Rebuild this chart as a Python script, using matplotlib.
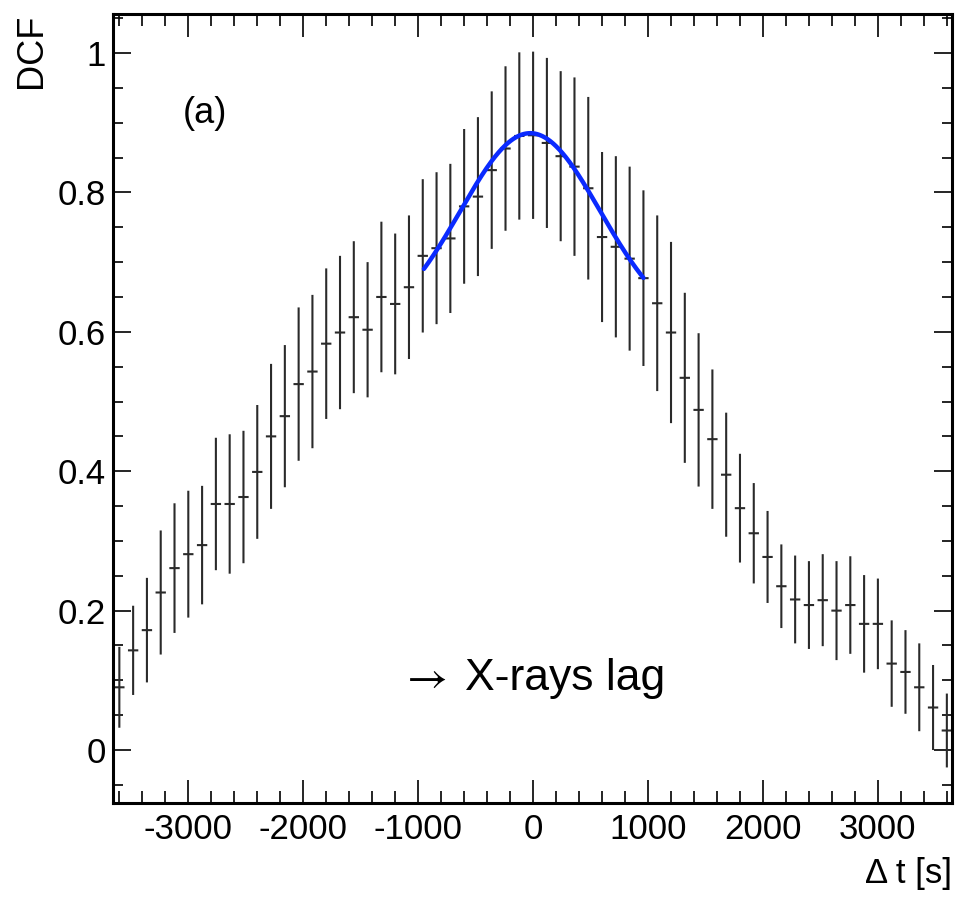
import numpy as np
import matplotlib
matplotlib.use("Agg")
import matplotlib.pyplot as plt
from matplotlib.ticker import MultipleLocator, FuncFormatter

plt.rcParams['font.family'] = ['Liberation Sans', 'DejaVu Sans']

# Discrete correlation function: lag bins [s], DCF values and their errors
lag = np.arange(-3600, 3601, 120)
dcf = [0.090, 0.143, 0.172, 0.226, 0.261, 0.281, 0.294, 0.353, 0.353, 0.363,
       0.399, 0.450, 0.479, 0.525, 0.543, 0.583, 0.599, 0.621, 0.603, 0.650,
       0.640, 0.664, 0.709, 0.720, 0.734, 0.780, 0.794, 0.832, 0.863, 0.881,
       0.882, 0.871, 0.852, 0.837, 0.806, 0.736, 0.722, 0.705, 0.677, 0.641,
       0.599, 0.534, 0.488, 0.446, 0.395, 0.347, 0.311, 0.277, 0.235, 0.216,
       0.208, 0.215, 0.200, 0.208, 0.181, 0.181, 0.124, 0.112, 0.090, 0.061,
       0.028]
dcf_err = [0.058, 0.064, 0.075, 0.089, 0.093, 0.091, 0.085, 0.095, 0.100, 0.095,
           0.096, 0.104, 0.102, 0.110, 0.110, 0.108, 0.110, 0.109, 0.097, 0.108,
           0.101, 0.103, 0.110, 0.109, 0.107, 0.111, 0.114, 0.113, 0.118, 0.120,
           0.120, 0.122, 0.122, 0.128, 0.131, 0.122, 0.130, 0.132, 0.126, 0.126,
           0.130, 0.122, 0.110, 0.100, 0.089, 0.078, 0.072, 0.066, 0.060, 0.063,
           0.063, 0.066, 0.071, 0.070, 0.070, 0.065, 0.062, 0.060, 0.063, 0.061,
           0.053]
lag_halfwidth = 45

# Gaussian + constant fitted around zero lag
fit_range = (-950, 960)
fit_amp = 0.285
fit_mean = -25.0
fit_sigma = 610.0
fit_offset = 0.600

fig = plt.figure(figsize=(9.57, 8.97), dpi=100)
ax = fig.add_axes([0.1181, 0.1048, 0.9948 - 0.1181, 0.9844 - 0.1048])

eb = ax.errorbar(lag, dcf, yerr=dcf_err, xerr=lag_halfwidth, fmt='none',
                 ecolor='#2a2a2a', elinewidth=1.5, capsize=0)
for coll in eb[2]:
    coll.set_snap(False)

t_fit = np.linspace(fit_range[0], fit_range[1], 400)
y_fit = fit_offset + fit_amp * np.exp(-0.5 * ((t_fit - fit_mean) / fit_sigma) ** 2)
ax.plot(t_fit, y_fit, color='#0a2aff', lw=3.2, solid_capstyle='round', zorder=5)

ax.set_xlim(-3655, 3645)
ax.set_ylim(-0.076, 1.056)

ax.xaxis.set_major_locator(MultipleLocator(1000))
ax.xaxis.set_minor_locator(MultipleLocator(200))
ax.yaxis.set_major_locator(MultipleLocator(0.2))
ax.yaxis.set_minor_locator(MultipleLocator(0.05))
ax.yaxis.set_major_formatter(FuncFormatter(lambda v, p: f"{v:.1f}".rstrip('0').rstrip('.') if abs(v) > 1e-9 else "0"))
ax.xaxis.set_major_formatter(FuncFormatter(lambda v, p: f"{int(round(v))}"))

ax.tick_params(which='both', direction='in', top=True, right=True,
               labelsize=25, width=1.2, color='black')
ax.tick_params(axis='x', which='major', length=16.5, pad=7)
ax.tick_params(axis='x', which='minor', length=8.5)
ax.tick_params(axis='y', which='major', length=13, pad=5)
ax.tick_params(axis='y', which='minor', length=7)

for s in ax.spines.values():
    s.set_linewidth(2.2)

ax.set_ylabel('DCF', fontsize=26, loc='top', labelpad=6)
ax.set_xlabel('Δ t [s]', fontsize=25, loc='right', labelpad=8)

ax.text(-3050, 0.90, '(a)', fontsize=26, ha='left', va='baseline')
ax.text(-1160, 0.086, r'$\rightarrow$', fontsize=32, math_fontfamily='stixsans',
        ha='left', va='baseline')
ax.text(-595, 0.086, 'X-rays lag', fontsize=32, ha='left', va='baseline')

fig.savefig('out.png', dpi=100)
